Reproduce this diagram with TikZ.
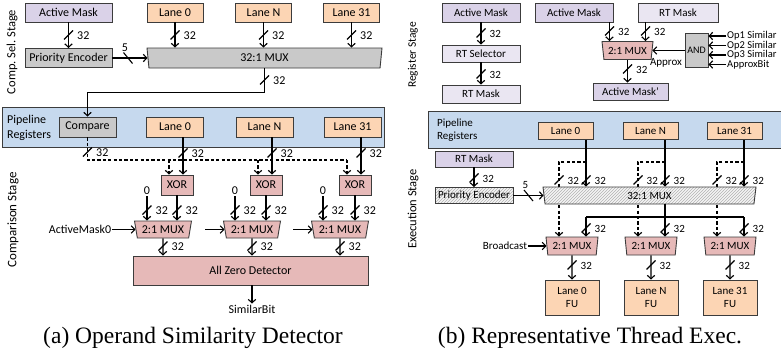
\documentclass[tikz,border=0pt]{standalone}
\usepackage{fontspec}
\setmainfont{Carlito}
\newfontfamily\capfont{Liberation Serif}
\usetikzlibrary{arrows.meta,shapes.geometric,patterns,calc}

\definecolor{lavA}{HTML}{DAD2E8}
\definecolor{lavB}{HTML}{EAE6F2}
\definecolor{peach}{HTML}{FCD5B4}
\definecolor{grayA}{HTML}{C9C9C9}
\definecolor{pinkA}{HTML}{E6B9B8}
\definecolor{bandblue}{HTML}{C6D9EE}
\definecolor{edge}{HTML}{3C3C3C}

\newcommand\txtL{\fontsize{12}{15}\selectfont}
\newcommand\txtR{\fontsize{11}{12.5}\selectfont}
\newcommand\txtS{\fontsize{10}{12}\selectfont}
\newcommand\txtIn{\fontsize{10.5}{12}\selectfont}
\newcommand\txtCap{\capfont\fontsize{23.5}{26}\selectfont}

\tikzset{
  wire/.style={line width=1.1pt},
  arr/.style={line width=1.1pt,-{Straight Barb[length=3.5pt,width=7.5pt]}},
  dline/.style={dash pattern=on 3.2pt off 2.2pt},
  box/.style={draw=edge, line width=0.9pt, inner sep=0pt, align=center},
  band/.style={draw=edge, line width=0.9pt, fill=bandblue, inner sep=0pt},
  mux/.style={trapezium, trapezium stretches body, draw=edge, line width=0.9pt,
              inner sep=0pt, trapezium left angle=#1, trapezium right angle=#1},
  hatch/.style={preaction={fill=gray!8}, pattern=north east lines, pattern color=gray!60},
  lbl/.style={inner sep=1pt},
  num/.style={inner sep=1pt},
  stagelbl/.style={rotate=90, inner sep=0pt},
  busv/.pic={\draw[wire] (-4.5,4.5) -- (4.5,-4.5);
             \node[num, anchor=west] (-n) at (7.5,0.5) {#1};},
  bush/.pic={\draw[wire] (-4.5,-5.5) -- (4.5,5.5);
             \node[num] (-n) at (-3,-10) {#1};}
}

\begin{document}
\begin{tikzpicture}[x=1pt,y=-1pt]
\useasboundingbox (0,0) rectangle (781,356);

% ---------- pipeline register bands ----------
\node[band, minimum width=382pt, minimum height=40pt] (bandL) at (193,127) {};
\node[band, minimum width=360pt, minimum height=37pt] (bandR) at (608,129.5) {};

% =====================================================
% (a) Operand similarity detector
% =====================================================
\begin{scope}[font=\txtL]
\node[stagelbl, font=\fontsize{12.5}{14}\selectfont] (stgA) at (12,52) {Comp.\ Sel.\ Stage};
\node[stagelbl, font=\fontsize{13}{15}\selectfont] (stgB) at (13,220) {Comparison Stage};

\node[box, fill=lavA, minimum width=87pt, minimum height=19pt] (amL) at (68.5,12.5) {Active Mask};
\node[box, fill=grayA, minimum width=87pt, minimum height=19pt] (peL) at (68.5,58) {Priority Encoder};
\node[box, fill=peach, minimum width=56pt, minimum height=19pt] (ltA0) at (175,12.5) {Lane 0};
\node[box, fill=peach, minimum width=56pt, minimum height=19pt] (ltAN) at (263.5,12.5) {Lane N};
\node[box, fill=peach, minimum width=56pt, minimum height=19pt] (ltA31) at (351.5,12.5) {Lane 31};
\node[mux=104, fill=grayA, minimum width=235pt, minimum height=20pt] (muxL) at (264.5,58) {32:1 MUX};

\draw[arr] (amL) -- (peL);
\pic (p1) at (68.5,35) {busv=32};
\draw[arr] (peL.east) -- (muxL.left side);
\pic (p2) at (128,58) {bush=5};
\foreach \l/\k in {ltA0/3,ltAN/4,ltA31/5}{
  \draw[arr] (\l) -- (\l |- muxL.north);
  \pic (p\k) at ($(\l.south)!0.5!(\l.south |- muxL.north)$) {busv=32};
}

\node[anchor=west, align=left, inner sep=0pt] (plL) at (7,127.5) {Pipeline\\Registers};
\node[box, fill=grayA, minimum width=57pt, minimum height=20pt] (cmp) at (87.5,127) {Compare};
\node[box, fill=peach, minimum width=57pt, minimum height=20pt] (lbA0) at (175,127) {Lane 0};
\node[box, fill=peach, minimum width=57pt, minimum height=20pt] (lbAN) at (264.5,127) {Lane N};
\node[box, fill=peach, minimum width=57pt, minimum height=20pt] (lbA31) at (352.5,127) {Lane 31};

% selected operand back to the compare register
\draw[arr] (muxL.south) -- ++(0,24) -| (cmp.north);
\pic (p6) at (264.5,80) {busv=32};

% XOR stage
\node[box, fill=pinkA, minimum width=32pt, minimum height=20pt] (xor1) at (177,185) {XOR};
\node[box, fill=pinkA, minimum width=32pt, minimum height=20pt] (xor2) at (266,185) {XOR};
\node[box, fill=pinkA, minimum width=32pt, minimum height=20pt] (xor3) at (355,185) {XOR};

\coordinate (dk) at (87.5,160);
\draw[wire, dline] (cmp.south) -- (dk) -- ([xshift=-8pt]xor3.north |- dk);
\foreach \x in {xor1,xor2,xor3}
  \draw[arr, dline] ([xshift=-8pt]\x.north |- dk) -- ([xshift=-8pt]\x.north);
\pic (p7) at (87.5,152) {busv=32};

\draw[arr] ([xshift=6pt]xor1.north |- lbA0.south) -- ([xshift=6pt]xor1.north);
\draw[arr] ([xshift=6pt]xor2.north |- lbAN.south) -- ([xshift=6pt]xor2.north);
\draw[arr] ([xshift=6pt]xor3.north |- lbA31.south) -- ([xshift=6pt]xor3.north);
\pic (p8) at (183,153) {busv=32};
\pic (p9) at (272,153) {busv=32};
\pic (p10) at (361,153) {busv=32};

% 2:1 multiplexers
\node[mux=110, fill=pinkA, minimum width=57pt, minimum height=17pt] (mxA1) at (163,229.5) {2:1 MUX};
\node[mux=110, fill=pinkA, minimum width=57pt, minimum height=17pt] (mxA2) at (252,229.5) {2:1 MUX};
\node[mux=110, fill=pinkA, minimum width=57pt, minimum height=17pt] (mxA3) at (340,229.5) {2:1 MUX};

\node[lbl] (z1) at (147,191) {0};
\node[lbl] (z2) at (235,191) {0};
\node[lbl] (z3) at (323,191) {0};
\foreach \z/\m/\k in {z1/mxA1/11,z2/mxA2/12,z3/mxA3/13}{
  \draw[arr] (\z) -- (\z |- \m.north);
  \pic (p\k) at (\z |- 0,210) {busv=32};
}
\foreach \x/\m/\k in {xor1/mxA1/14,xor2/mxA2/15,xor3/mxA3/16}{
  \draw[arr] (\x) -- (\x |- \m.north);
  \pic (p\k) at (\x |- 0,210) {busv=32};
}

\node[lbl] (am0) at (80,229.5) {ActiveMask0};
\draw[arr] (am0.east) -- (mxA1.left side);
\coordinate (s2) at (205,229.5);
\coordinate (s3) at (293,229.5);
\draw[arr] (s2) -- (mxA2.left side);
\draw[arr] (s3) -- (mxA3.left side);

\node[box, fill=pinkA, minimum width=235pt, minimum height=29pt] (azd) at (250.5,270.5) {All Zero Detector};
\foreach \m/\k in {mxA1/17,mxA2/18,mxA3/19}{
  \draw[arr] (\m) -- (\m |- azd.north);
  \pic (p\k) at (\m |- 0,246) {busv=32};
}
\node[lbl] (simb) at (252,309) {SimilarBit};
\draw[arr] (azd.south -| simb) -- (simb.north);
\end{scope}

\node[font=\txtCap, anchor=base] (capA) at (193,343) {(a) Operand Similarity Detector};

% =====================================================
% (b) Representative thread execution
% =====================================================
\begin{scope}[font=\txtR]
\node[stagelbl, font=\fontsize{11.5}{13}\selectfont] (stgC) at (413,55) {Register Stage};
\node[stagelbl, font=\fontsize{12.5}{14}\selectfont] (stgD) at (413,209) {Execution Stage};

% register stage
\node[box, fill=lavA, minimum width=78pt, minimum height=19pt] (amR) at (481,12.5) {Active Mask};
\node[box, fill=lavB, minimum width=78pt, minimum height=17pt] (rts) at (481,53.5) {RT Selector};
\node[box, fill=lavB, minimum width=78pt, minimum height=18pt] (rtmA) at (481,94) {RT Mask};
\draw[arr] (amR) -- (rts);
\draw[arr] (rts) -- (rtmA);
\pic (q1) at (481,33) {busv=32};
\pic (q2) at (481,74) {busv=32};

\node[box, fill=lavA, minimum width=78pt, minimum height=19pt] (amS) at (574,12.5) {Active Mask};
\node[box, fill=lavB, minimum width=80pt, minimum height=19pt] (rtmB) at (678,12.5) {RT Mask};
\node[mux=105, fill=pinkA, minimum width=51pt, minimum height=18pt] (mxR) at (627.5,50.5) {2:1 MUX};
\draw[arr] ([xshift=-18pt]mxR.north |- amS.south) -- ([xshift=-18pt]mxR.north);
\draw[arr] ([xshift=18pt]mxR.north |- rtmB.south) -- ([xshift=18pt]mxR.north);
\pic (q3) at (609.5,31) {busv=32};
\pic (q4) at (645.5,31) {busv=32};

\node[box, fill=grayA, minimum width=23pt, minimum height=34pt, font=\txtS] (andg) at (696.5,50.5) {AND};
\draw[arr] (andg.west) -- (mxR.right side);
\node[lbl] (apx) at (666,62.5) {Approx};
\node[inner sep=0pt, anchor=west, font=\txtIn] (op1) at (727,36) {Op1 Similar};
\node[inner sep=0pt, anchor=west, font=\txtIn] (op2) at (727,45.5) {Op2 Similar};
\node[inner sep=0pt, anchor=west, font=\txtIn] (op3) at (727,55) {Op3 Similar};
\node[inner sep=0pt, anchor=west, font=\txtIn] (apb) at (727,64.5) {ApproxBit};
\foreach \o in {op1,op2,op3,apb}
  \draw[arr] ([xshift=-1pt]\o.west) -- (\o.west -| andg.east);

\node[box, fill=lavA, minimum width=75pt, minimum height=17pt] (amp) at (630.5,91.5) {Active Mask'};
\draw[arr] (mxR.south) -- (mxR.south |- amp.north);
\pic (q5) at (627.5,69) {busv=32};

% pipeline registers
\node[anchor=west, align=left, inner sep=0pt] (plR) at (437,130) {Pipeline\\Registers};
\node[box, fill=peach, minimum width=55pt, minimum height=17pt] (lr0) at (565.5,131) {Lane 0};
\node[box, fill=peach, minimum width=55pt, minimum height=17pt] (lrN) at (650.5,131) {Lane N};
\node[box, fill=peach, minimum width=55pt, minimum height=17pt] (lr31) at (734.5,131) {Lane 31};

% execution stage multiplexers
\node[mux=104, fill=pinkA, minimum width=52pt, minimum height=18pt] (mxE1) at (572,246) {2:1 MUX};
\node[mux=104, fill=pinkA, minimum width=52pt, minimum height=18pt] (mxE2) at (651,246) {2:1 MUX};
\node[mux=104, fill=pinkA, minimum width=52pt, minimum height=18pt] (mxE3) at (730,246) {2:1 MUX};

% private operands bypass the selection mux
\coordinate (dy) at (0,162);
\foreach \m in {mxE1,mxE2,mxE3}
  \draw[arr, dline] ([xshift=14pt]\m.north |- dy) -| ([xshift=-13pt]\m.north);

\node[mux=106, hatch, minimum width=213pt, minimum height=17pt] (mx32) at (649.5,195.5) {32:1 MUX};

\draw[arr] ([xshift=14pt]mxE1.north |- lr0.south) -- ([xshift=14pt]mxE1.north |- mx32.north);
\draw[arr] ([xshift=14pt]mxE2.north |- lrN.south) -- ([xshift=14pt]mxE2.north |- mx32.north);
\draw[arr] ([xshift=14pt]mxE3.north |- lr31.south) -- ([xshift=14pt]mxE3.north |- mx32.north);
\pic (q6) at (559,180) {busv=32};
\pic (q7) at (638,180) {busv=32};
\pic (q8) at (717,180) {busv=32};
\pic (q9) at (586,180) {busv=32};
\pic (q10) at (665,180) {busv=32};
\pic (q11) at (744,180) {busv=32};

\node[box, fill=lavA, minimum width=78pt, minimum height=16pt] (rtmC) at (474,159) {RT Mask};
\node[box, hatch, minimum width=78pt, minimum height=16pt] (peR) at (474,195.5) {Priority Encoder};
\draw[arr] (rtmC) -- (peR);
\pic (q12) at (474,178) {busv=32};
\draw[arr] (peR.east) -- (mx32.left side);
\pic (q13) at (528.5,195.5) {bush=5};

% broadcast of the representative operand
\coordinate (hy) at (0,217);
\draw[wire] ([xshift=14pt]mxE2.north |- mx32.south) -- ([xshift=14pt]mxE2.north |- hy);
\draw[wire] ([xshift=14pt]mxE1.north |- hy) -- ([xshift=14pt]mxE3.north |- hy);
\foreach \m in {mxE1,mxE2,mxE3}
  \draw[arr] ([xshift=14pt]\m.north |- hy) -- ([xshift=14pt]\m.north);
\pic (q14) at (586,228) {busv=32};
\pic (q15) at (665,228) {busv=32};
\pic (q16) at (744,228) {busv=32};

\node[lbl] (bc) at (505,246) {Broadcast};
\draw[arr] (bc.east) -- (mxE1.left side);

\node[box, fill=peach, minimum width=54pt, minimum height=35pt] (fu0) at (572,297.5) {Lane 0\\FU};
\node[box, fill=peach, minimum width=54pt, minimum height=35pt] (fuN) at (651,297.5) {Lane N\\FU};
\node[box, fill=peach, minimum width=54pt, minimum height=35pt] (fu31) at (730,297.5) {Lane 31\\FU};
\draw[arr] (mxE1) -- (fu0);
\draw[arr] (mxE2) -- (fuN);
\draw[arr] (mxE3) -- (fu31);
\pic (q17) at (572,265) {busv=32};
\pic (q18) at (651,265) {busv=32};
\pic (q19) at (730,265) {busv=32};
\end{scope}

\node[font=\txtCap, anchor=base] (capB) at (590,343) {(b) Representative Thread Exec.};
\end{tikzpicture}
\end{document}
